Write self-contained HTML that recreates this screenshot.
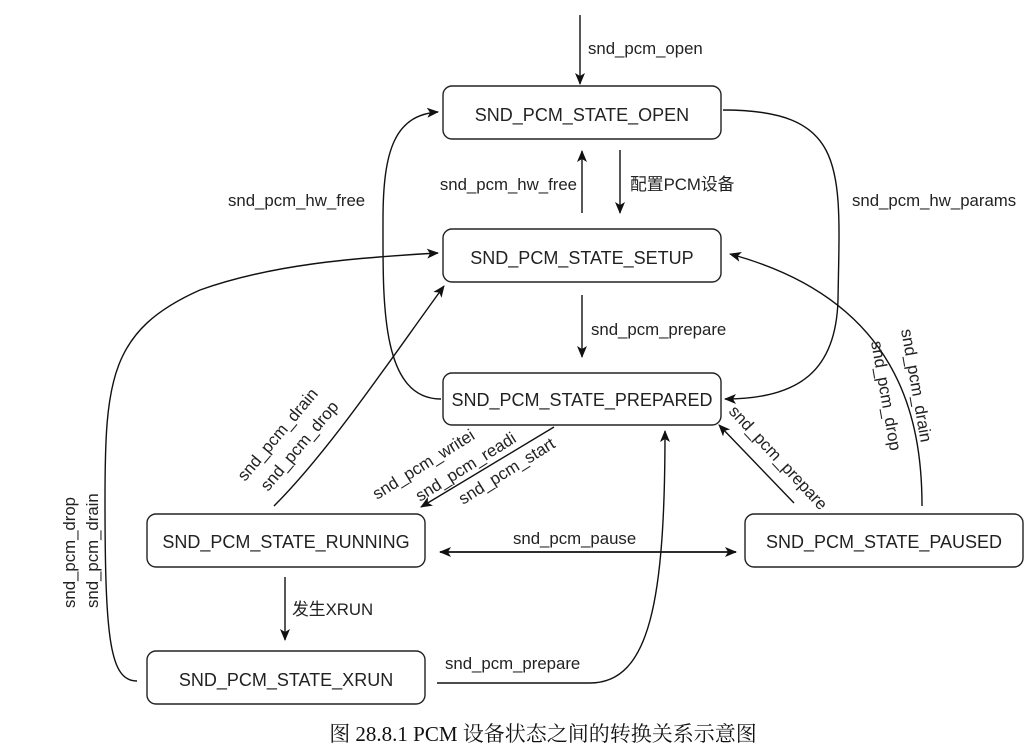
<!DOCTYPE html>
<html><head><meta charset="utf-8"><style>
html,body{margin:0;padding:0;background:#fff;}
svg{display:block;}
text{font-family:"Liberation Sans","Noto Sans CJK SC",sans-serif;fill:#222;font-size:16.8px;}
.b{font-size:18px;}
</style></head><body>
<svg width="1036" height="747" viewBox="0 0 1036 747">
<defs><marker id="a" markerWidth="12" markerHeight="10" refX="11" refY="5" orient="auto" markerUnits="userSpaceOnUse"><path d="M0,0 L12,5 L0,10 L3,5 Z" fill="#111"/></marker></defs>
<g fill="none" stroke="#222" stroke-width="1.4">
<rect x="443" y="86" width="278" height="53" rx="9"/>
<rect x="443" y="229" width="278" height="53" rx="9"/>
<rect x="443" y="373" width="278" height="52" rx="9"/>
<rect x="147" y="514" width="278" height="53" rx="9"/>
<rect x="745" y="514" width="278" height="53" rx="9"/>
<rect x="147" y="651" width="278" height="53" rx="9"/>
</g>
<g fill="none" stroke="#111" stroke-width="1.4" marker-end="url(#a)">
<path d="M580,15 V84"/>
<path d="M582,213 V151"/>
<path d="M620,150 V213"/>
<path d="M582,295 V357"/>
<path d="M723,110 C850,110 840,170 838,300 C836,370 800,399 725,399"/>
<path d="M441,399 C380,399 383,300 383,220 C383,150 395,115 438,112"/>
<path d="M274,506 C330,450 390,360 444,286"/>
<path d="M922,506 C922,420 900,300 730,254"/>
<path d="M794,503 L719,425"/>
<path d="M554,427 L421,507"/>
<path d="M437,683 H590 C650,683 665,600 665,431"/>
<path d="M285,577 V640"/>
<path d="M137,681 C110,681 105,640 105,500 C105,380 110,330 200,290 C270,265 350,258 438,253"/>
<path d="M440,552 H736"/>
<path d="M736,552 H440"/>
</g>
<g text-anchor="middle">
<text class="b" x="582" y="121">SND_PCM_STATE_OPEN</text>
<text class="b" x="582" y="264">SND_PCM_STATE_SETUP</text>
<text class="b" x="582" y="406">SND_PCM_STATE_PREPARED</text>
<text class="b" x="286" y="548">SND_PCM_STATE_RUNNING</text>
<text class="b" x="884" y="548">SND_PCM_STATE_PAUSED</text>
<text class="b" x="286" y="686">SND_PCM_STATE_XRUN</text>
</g>
<text x="588" y="54">snd_pcm_open</text>
<text x="577" y="190" text-anchor="end">snd_pcm_hw_free</text>
<text x="630" y="190">配置PCM设备</text>
<text x="228" y="206">snd_pcm_hw_free</text>
<text x="852" y="206">snd_pcm_hw_params</text>
<text x="591" y="335">snd_pcm_prepare</text>
<text x="513" y="544">snd_pcm_pause</text>
<text x="445" y="669">snd_pcm_prepare</text>
<text x="292" y="615">发生XRUN</text>
<text transform="translate(245,482) rotate(-50)">snd_pcm_drain</text>
<text transform="translate(268,492) rotate(-50)">snd_pcm_drop</text>
<text transform="translate(377,500) rotate(-32)">snd_pcm_writei</text>
<text transform="translate(420,502) rotate(-32)">snd_pcm_readi</text>
<text transform="translate(463,505) rotate(-32)">snd_pcm_start</text>
<text transform="translate(728,412) rotate(47)">snd_pcm_prepare</text>
<text transform="translate(901,330) rotate(80)">snd_pcm_drain</text>
<text transform="translate(871,342) rotate(80)">snd_pcm_drop</text>
<text transform="translate(75,608) rotate(-90)">snd_pcm_drop</text>
<text transform="translate(98,608) rotate(-90)">snd_pcm_drain</text>
<text x="543" y="741" text-anchor="middle" style="font-family:'Liberation Serif','Noto Serif CJK SC',serif;font-size:21px;fill:#111">图  28.8.1 PCM 设备状态之间的转换关系示意图</text>
</svg>
</body></html>
